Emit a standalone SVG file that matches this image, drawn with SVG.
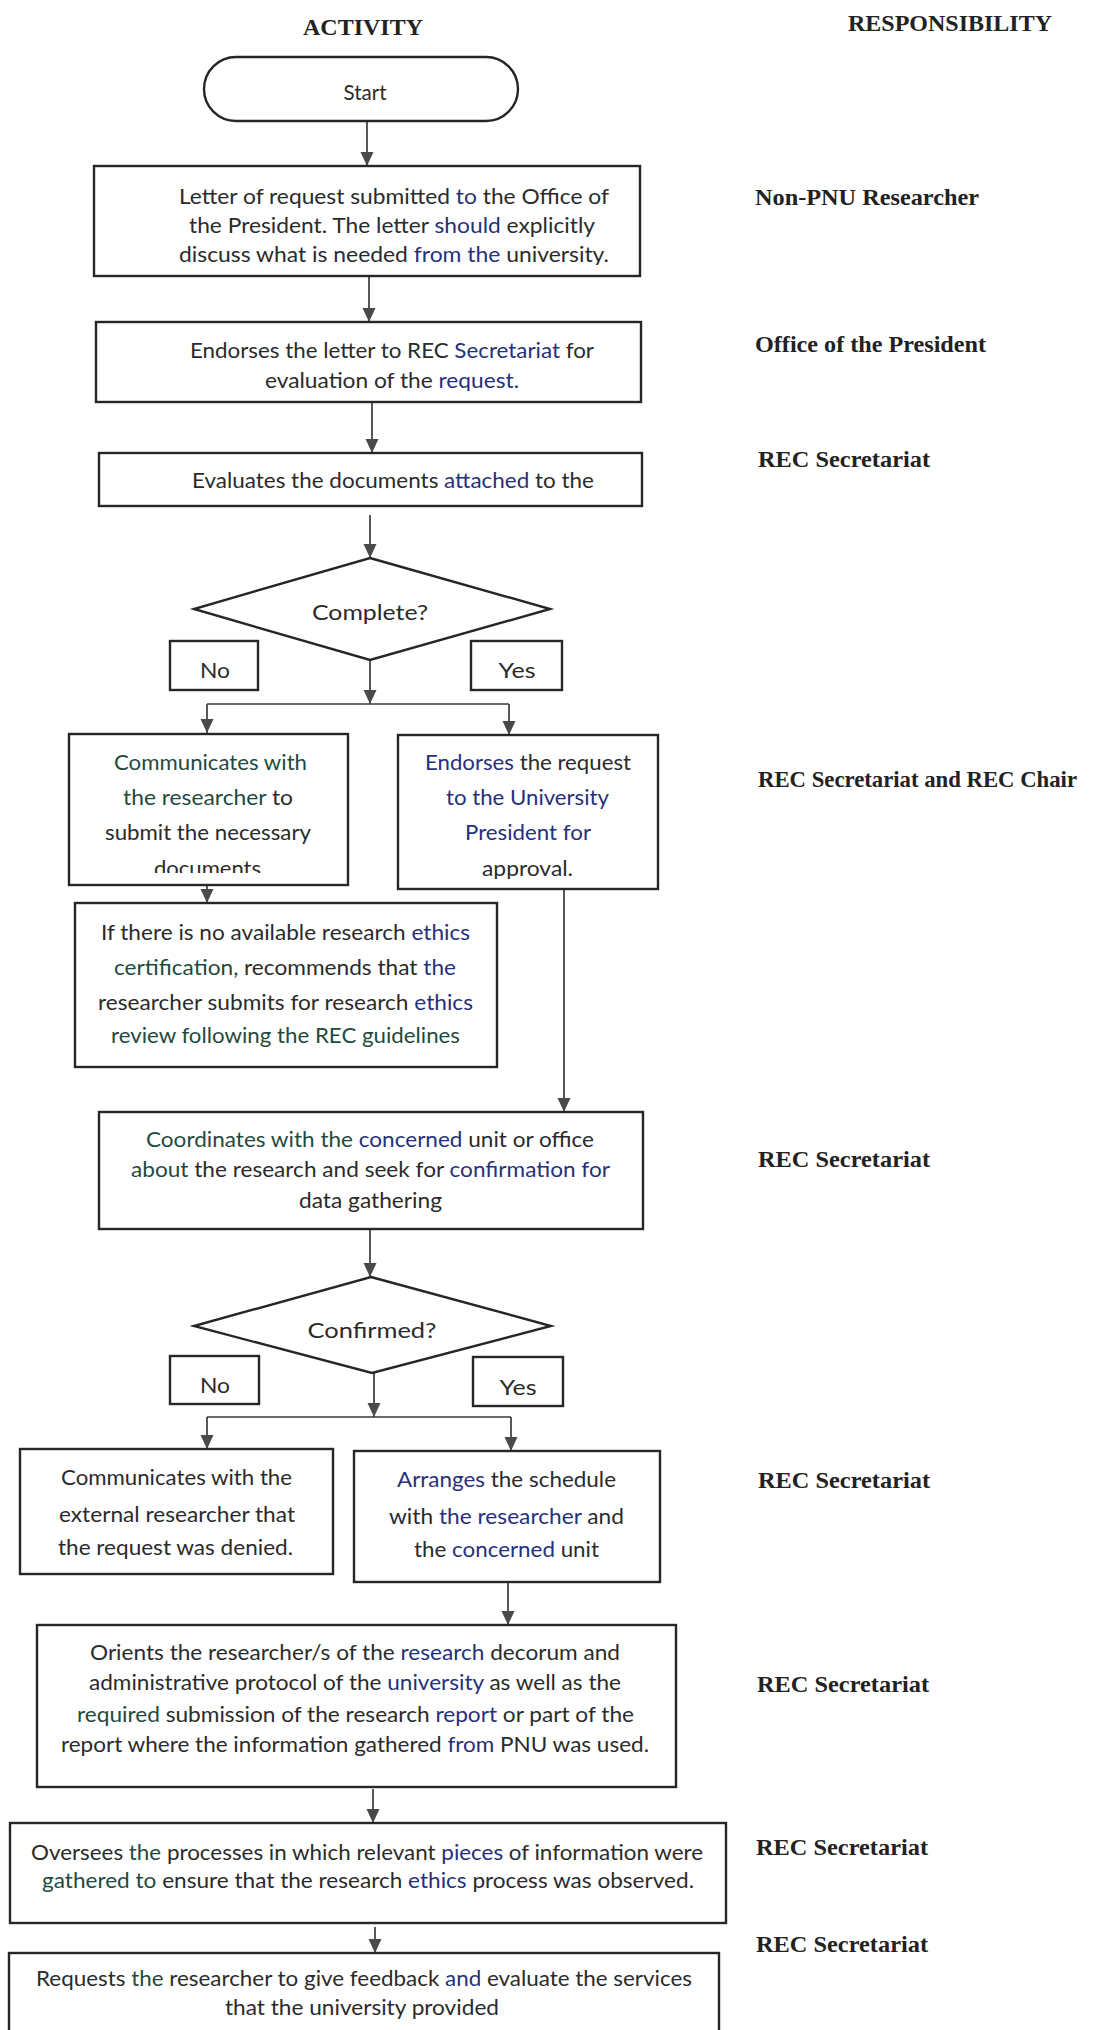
<svg xmlns="http://www.w3.org/2000/svg" width="1099" height="2030" viewBox="0 0 1099 2030">
<style>
.bg{fill:#fff}
.box{fill:#fff;stroke:#262626;stroke-width:2.4}
.t{font-family:Lato,"Open Sans","Liberation Sans",sans-serif;font-size:22px;fill:#2b2b2b;text-anchor:middle}
.n{fill:#27307a}
.g{fill:#1f4a3e}
.r{font-family:"Liberation Serif",serif;font-weight:bold;font-size:24px;fill:#222}
.c{stroke:#3a3a3a;stroke-width:1.7;fill:none}
.ca{stroke:#3a3a3a;stroke-width:1.7;fill:none;marker-end:url(#ah)}
</style>
<defs>
<marker id="ah" markerUnits="userSpaceOnUse" markerWidth="14" markerHeight="14" refX="14" refY="7" orient="auto" viewBox="0 0 14 14">
<path d="M0,0.5 L14,7 L0,13.5 z" fill="#4a4a4a"/>
</marker>
<clipPath id="clipDoc"><rect x="60" y="850" width="300" height="23"/></clipPath>
<clipPath id="clipAppr"><rect x="400" y="850" width="260" height="29"/></clipPath>
<clipPath id="clipUniv"><rect x="90" y="240" width="560" height="25"/></clipPath>
<clipPath id="clipReq"><rect x="90" y="365" width="560" height="26"/></clipPath>
</defs>
<rect class="bg" x="0" y="0" width="1099" height="2030"/>

<g id="headers">
<text class="r" x="303" y="35" font-size="22" textLength="120" lengthAdjust="spacingAndGlyphs">ACTIVITY</text>
<text class="r" x="848" y="31" font-size="23" textLength="204" lengthAdjust="spacingAndGlyphs">RESPONSIBILITY</text>
</g>

<g id="responsibilities">
<text class="r" x="755" y="205" textLength="224" lengthAdjust="spacingAndGlyphs">Non-PNU Researcher</text>
<text class="r" x="755" y="352" textLength="231" lengthAdjust="spacingAndGlyphs">Office of the President</text>
<text class="r" x="758" y="467" textLength="172" lengthAdjust="spacingAndGlyphs">REC Secretariat</text>
<text class="r" x="758" y="787" textLength="319" lengthAdjust="spacingAndGlyphs">REC Secretariat and REC Chair</text>
<text class="r" x="758" y="1167" textLength="172" lengthAdjust="spacingAndGlyphs">REC Secretariat</text>
<text class="r" x="758" y="1488" textLength="172" lengthAdjust="spacingAndGlyphs">REC Secretariat</text>
<text class="r" x="757" y="1692" textLength="172" lengthAdjust="spacingAndGlyphs">REC Secretariat</text>
<text class="r" x="756" y="1855" textLength="172" lengthAdjust="spacingAndGlyphs">REC Secretariat</text>
<text class="r" x="756" y="1952" textLength="172" lengthAdjust="spacingAndGlyphs">REC Secretariat</text>
</g>

<g id="connectors">
<path class="ca" d="M367,122 V166"/>
<path class="ca" d="M369,276 V322"/>
<path class="ca" d="M372,402 V453"/>
<path class="ca" d="M370,515 V558"/>
<path class="ca" d="M370,660 V704"/>
<path class="c" d="M207,704 H509"/>
<path class="ca" d="M207,704 V733"/>
<path class="ca" d="M509,704 V735"/>
<path class="ca" d="M207,877 V903"/>
<path class="ca" d="M564,889 V1112"/>
<path class="ca" d="M370,1229 V1277"/>
<path class="ca" d="M374,1373 V1417"/>
<path class="c" d="M207,1417 H511"/>
<path class="ca" d="M207,1417 V1449"/>
<path class="ca" d="M511,1417 V1451"/>
<path class="ca" d="M508,1582 V1625"/>
<path class="ca" d="M373,1789 V1823"/>
<path class="ca" d="M375,1927 V1953"/>
</g>

<g id="start">
<rect class="box" x="204" y="57" width="314" height="64" rx="32" ry="32"/>
<text class="t" x="365" y="100" font-size="19" textLength="43" lengthAdjust="spacingAndGlyphs">Start</text>
</g>

<g id="letter-request">
<rect class="box" x="94" y="166" width="546" height="110"/>
<text class="t" x="394" y="204" textLength="430" lengthAdjust="spacingAndGlyphs">Letter of request submitted <tspan class="n">to</tspan> the Office of</text>
<text class="t" x="392" y="233" textLength="406" lengthAdjust="spacingAndGlyphs">the President. The letter <tspan class="n">should</tspan> explicitly</text>
<g clip-path="url(#clipUniv)"><text class="t" x="394" y="262" textLength="430" lengthAdjust="spacingAndGlyphs">discuss what is needed <tspan class="n">from the</tspan> university.</text></g>
</g>

<g id="endorse-letter">
<rect class="box" x="96" y="322" width="545" height="80"/>
<text class="t" x="392" y="358" textLength="404" lengthAdjust="spacingAndGlyphs">Endorses the letter to REC <tspan class="n">Secretariat</tspan> for</text>
<g clip-path="url(#clipReq)"><text class="t" x="392" y="388" textLength="254" lengthAdjust="spacingAndGlyphs">evaluation of the <tspan class="n">request.</tspan></text></g>
</g>

<g id="evaluate-docs">
<rect class="box" x="99" y="453" width="543" height="53"/>
<text class="t" x="393" y="488" textLength="402" lengthAdjust="spacingAndGlyphs">Evaluates the documents <tspan class="n">attached</tspan> to the</text>
</g>

<g id="complete-decision">
<polygon class="box" points="370,558 550,609 370,660 194,609"/>
<text class="t" x="370" y="620" font-size="24" textLength="116" lengthAdjust="spacingAndGlyphs">Complete?</text>
</g>

<g id="complete-no">
<rect class="box" x="170" y="641" width="88" height="49" stroke-width="1.8"/>
<text class="t" x="215" y="678" textLength="30" lengthAdjust="spacingAndGlyphs">No</text>
</g>

<g id="complete-yes">
<rect class="box" x="471" y="641" width="91" height="49" stroke-width="1.8"/>
<text class="t" x="517" y="678" textLength="37" lengthAdjust="spacingAndGlyphs">Yes</text>
</g>

<g id="communicate-researcher">
<rect class="box" x="69" y="734" width="279" height="151"/>
<text class="t g" x="210.5" y="770" textLength="193" lengthAdjust="spacingAndGlyphs">Communicates with</text>
<text class="t" x="208" y="805" textLength="170" lengthAdjust="spacingAndGlyphs"><tspan class="g">the researcher</tspan> to</text>
<text class="t" x="208" y="840" textLength="206" lengthAdjust="spacingAndGlyphs">submit the necessary</text>
<g clip-path="url(#clipDoc)"><text class="t" x="207.5" y="876" textLength="107" lengthAdjust="spacingAndGlyphs">documents</text></g>
</g>

<g id="endorse-request">
<rect class="box" x="398" y="735" width="260" height="154"/>
<text class="t" x="528" y="770" textLength="206" lengthAdjust="spacingAndGlyphs"><tspan class="n">Endorses</tspan> the request</text>
<text class="t n" x="527.5" y="805" textLength="163" lengthAdjust="spacingAndGlyphs">to the University</text>
<text class="t n" x="528" y="840" textLength="126" lengthAdjust="spacingAndGlyphs">President for</text>
<g clip-path="url(#clipAppr)"><text class="t" x="527.5" y="876" textLength="91" lengthAdjust="spacingAndGlyphs">approval.</text></g>
</g>

<g id="ethics-review">
<rect class="box" x="75" y="903" width="422" height="164"/>
<text class="t" x="285.5" y="940" textLength="369" lengthAdjust="spacingAndGlyphs">If there is no available research <tspan class="n">ethics</tspan></text>
<text class="t" x="285" y="975" textLength="342" lengthAdjust="spacingAndGlyphs"><tspan class="g">certification,</tspan> recommends that <tspan class="n">the</tspan></text>
<text class="t" x="285.5" y="1010" textLength="375" lengthAdjust="spacingAndGlyphs">researcher submits for research <tspan class="n">ethics</tspan></text>
<text class="t g" x="285.5" y="1043" textLength="349" lengthAdjust="spacingAndGlyphs">review following the REC guidelines</text>
</g>

<g id="coordinate-unit">
<rect class="box" x="99" y="1112" width="544" height="117"/>
<text class="t" x="370" y="1147" textLength="448" lengthAdjust="spacingAndGlyphs"><tspan class="g">Coordinates with the</tspan> <tspan class="n">concerned</tspan> unit or office</text>
<text class="t" x="370.5" y="1177" textLength="479" lengthAdjust="spacingAndGlyphs"><tspan class="g">about</tspan> the research and seek for <tspan class="n">confirmation for</tspan></text>
<text class="t" x="370.5" y="1208" textLength="143" lengthAdjust="spacingAndGlyphs">data gathering</text>
</g>

<g id="confirmed-decision">
<polygon class="box" points="371,1277 551,1326 372,1373 194,1326"/>
<text class="t" x="372" y="1338" font-size="24" textLength="129" lengthAdjust="spacingAndGlyphs">Confirmed?</text>
</g>

<g id="confirmed-no">
<rect class="box" x="170" y="1356" width="89" height="48" stroke-width="1.8"/>
<text class="t" x="215" y="1393" textLength="30" lengthAdjust="spacingAndGlyphs">No</text>
</g>

<g id="confirmed-yes">
<rect class="box" x="473" y="1357" width="90" height="49" stroke-width="1.8"/>
<text class="t" x="518" y="1395" textLength="37" lengthAdjust="spacingAndGlyphs">Yes</text>
</g>

<g id="request-denied">
<rect class="box" x="20" y="1449" width="313" height="125"/>
<text class="t" x="176.5" y="1485" textLength="231" lengthAdjust="spacingAndGlyphs">Communicates with the</text>
<text class="t" x="177" y="1522" textLength="236" lengthAdjust="spacingAndGlyphs">external researcher that</text>
<text class="t" x="175.5" y="1555" textLength="235" lengthAdjust="spacingAndGlyphs">the request was denied.</text>
</g>

<g id="arrange-schedule">
<rect class="box" x="354" y="1451" width="306" height="131"/>
<text class="t" x="506.5" y="1487" textLength="219" lengthAdjust="spacingAndGlyphs"><tspan class="n">Arranges</tspan> the schedule</text>
<text class="t" x="506.5" y="1524" textLength="235" lengthAdjust="spacingAndGlyphs">with <tspan class="n">the researcher</tspan> and</text>
<text class="t" x="506.5" y="1557" textLength="185" lengthAdjust="spacingAndGlyphs">the <tspan class="n">concerned</tspan> unit</text>
</g>

<g id="orient-researcher">
<rect class="box" x="37" y="1625" width="639" height="162"/>
<text class="t" x="355" y="1660" textLength="530" lengthAdjust="spacingAndGlyphs">Orients the researcher/s of the <tspan class="n">research</tspan> decorum and</text>
<text class="t" x="355" y="1690" textLength="532" lengthAdjust="spacingAndGlyphs">administrative protocol of the <tspan class="n">university</tspan> as well as the</text>
<text class="t" x="355.5" y="1722" textLength="557" lengthAdjust="spacingAndGlyphs"><tspan class="g">required</tspan> submission of the research <tspan class="n">report</tspan> or part of the</text>
<text class="t" x="355" y="1752" textLength="588" lengthAdjust="spacingAndGlyphs">report where the information gathered <tspan class="n">from</tspan> PNU was used.</text>
</g>

<g id="oversee-process">
<rect class="box" x="10" y="1823" width="716" height="100"/>
<text class="t" x="367" y="1860" textLength="672" lengthAdjust="spacingAndGlyphs">Oversees <tspan class="g">the</tspan> processes in which relevant <tspan class="n">pieces</tspan> of information were</text>
<text class="t" x="368" y="1888" textLength="652" lengthAdjust="spacingAndGlyphs"><tspan class="g">gathered to</tspan> ensure that the research <tspan class="n">ethics</tspan> process was observed.</text>
</g>

<g id="request-feedback">
<rect class="box" x="9" y="1953" width="710" height="90"/>
<text class="t" x="364" y="1986" textLength="656" lengthAdjust="spacingAndGlyphs">Requests <tspan class="g">the</tspan> researcher to give feedback <tspan class="n">and</tspan> evaluate the services</text>
<text class="t" x="362" y="2015" textLength="274" lengthAdjust="spacingAndGlyphs">that the university provided</text>
</g>
</svg>
